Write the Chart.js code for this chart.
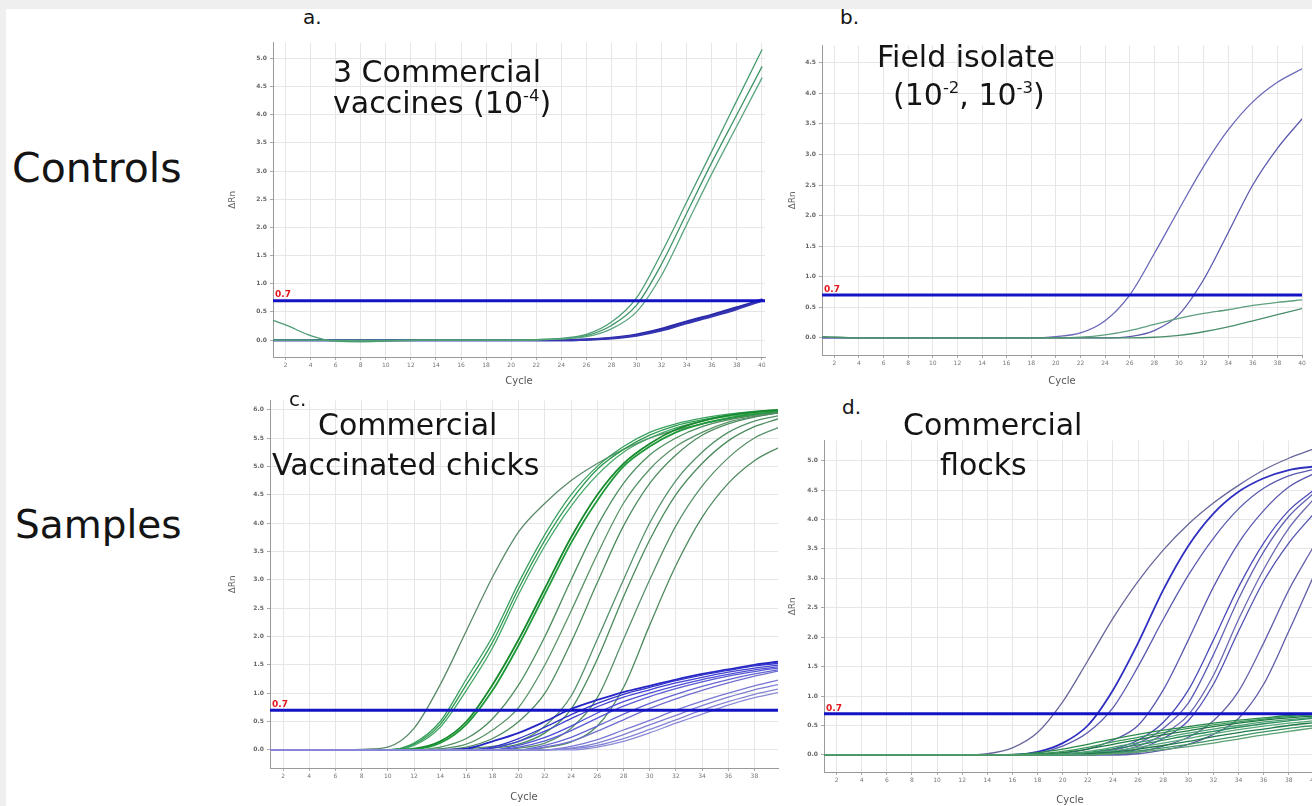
<!DOCTYPE html>
<html>
<head>
<meta charset="utf-8">
<script src="https://cdn.jsdelivr.net/npm/chart.js@4.4.1/dist/chart.umd.min.js"></script>
<style>
  html, body { margin: 0; padding: 0; }
  body {
    width: 1312px; height: 806px; overflow: hidden; position: relative;
    background: #efefef;
    font-family: "Comic Sans MS", "DejaVu Sans", sans-serif;
  }
  #sheet { position: absolute; left: 6px; top: 9px; right: 0; bottom: 0; background: #fff; }
  canvas { position: absolute; }
  .t { position: absolute; color: #141414; line-height: 1; white-space: nowrap; }
  .big { font-size: 39px; }
  .head { font-size: 30px; }
  .tag { font-size: 20px; }
  sup { font-size: 0.55em; vertical-align: 0.75em; }
</style>
</head>
<body>
<div id="sheet"></div>
<canvas id="pa"></canvas>
<canvas id="pb"></canvas>
<canvas id="pc"></canvas>
<canvas id="pd"></canvas>

<div class="t big" style="left:12px;top:148px;font-size:41px">Controls</div>
<div class="t big" style="left:15px;top:505px">Samples</div>

<div class="t tag" style="left:303px;top:7px">a.</div>
<div class="t tag" style="left:840px;top:7px">b.</div>
<div class="t tag" style="left:289px;top:389px">c.</div>
<div class="t tag" style="left:842px;top:397px">d.</div>

<div class="t head" style="left:333px;top:57px">3 Commercial</div>
<div class="t head" style="left:333px;top:88px">vaccines (10<sup>-4</sup>)</div>
<div class="t head" style="left:877px;top:42px">Field isolate</div>
<div class="t head" style="left:893px;top:80px">(10<sup>-2</sup>, 10<sup>-3</sup>)</div>
<div class="t head" style="left:318px;top:410px">Commercial</div>
<div class="t head" style="left:272px;top:450px">Vaccinated chicks</div>
<div class="t head" style="left:903px;top:410px">Commercial</div>
<div class="t head" style="left:940px;top:450px">flocks</div>

<script>
// sampled cycles shared by every amplification curve
const cycles = [1, 2, 4, 6, 8, 10, 12, 14, 16, 18, 20, 22, 24, 26, 28, 30, 32, 34, 36, 38, 40];
const cycleTicks = [2, 4, 6, 8, 10, 12, 14, 16, 18, 20, 22, 24, 26, 28, 30, 32, 34, 36, 38, 40];
const threshold = 0.7;

const aDeltaTicks = [0, 0.5, 1, 1.5, 2, 2.5, 3, 3.5, 4, 4.5, 5];
const bDeltaTicks = [0, 0.5, 1, 1.5, 2, 2.5, 3, 3.5, 4, 4.5];
const cDeltaTicks = [0, 0.5, 1, 1.5, 2, 2.5, 3, 3.5, 4, 4.5, 5, 5.5, 6];
const dDeltaTicks = [0, 0.5, 1, 1.5, 2, 2.5, 3, 3.5, 4, 4.5, 5];

// a. 3 commercial vaccines
const aGreen1 = [0.35, 0.27, 0.08, -0.02, -0.03, -0.02, -0.01, 0, 0, 0, 0, 0.01, 0.03, 0.1, 0.32, 0.75, 1.55, 2.45, 3.35, 4.25, 5.15];
const aGreen2 = [0, 0, 0, -0.01, -0.01, -0.01, 0, 0, 0, 0, 0, 0.01, 0.02, 0.08, 0.26, 0.62, 1.35, 2.25, 3.15, 4.0, 4.85];
const aGreen3 = [0, 0, 0, 0, 0, 0, 0, 0, 0, 0, 0, 0, 0.02, 0.06, 0.2, 0.5, 1.15, 2.05, 2.95, 3.8, 4.65];
const aBlue1 = [0, 0, 0, 0, 0, 0, 0, 0, 0, 0, 0, 0, 0, 0.01, 0.04, 0.1, 0.2, 0.33, 0.45, 0.58, 0.72];
const aBlue2 = [0, 0, 0, 0, 0, 0, 0, 0, 0, 0, 0, 0, 0, 0.01, 0.03, 0.08, 0.17, 0.3, 0.42, 0.55, 0.7];

// b. field isolate
const bBlue1 = [0, 0, 0, 0, 0, 0, 0, 0, 0, 0, 0.02, 0.08, 0.28, 0.7, 1.38, 2.1, 2.8, 3.4, 3.86, 4.18, 4.4];
const bBlue2 = [0, 0, 0, 0, 0, 0, 0, 0, 0, 0, 0, 0, 0, 0.02, 0.12, 0.38, 0.95, 1.72, 2.5, 3.1, 3.58];
const bGreen1 = [0.02, 0.01, 0, 0, 0, 0, 0, 0, 0, 0, 0, 0.01, 0.05, 0.12, 0.22, 0.32, 0.4, 0.46, 0.53, 0.58, 0.62];
const bGreen2 = [0.02, 0.01, 0, 0, 0, 0, 0, 0, 0, 0, 0, 0, 0, 0, 0.01, 0.04, 0.1, 0.18, 0.28, 0.38, 0.48];

// c. commercial vaccinated chicks
const cG1 = [0, 0, 0, 0, 0.01, 0.05, 0.38, 1.15, 2.1, 3.05, 3.85, 4.35, 4.75, 5.05, 5.3, 5.5, 5.64, 5.75, 5.84, 5.9, 5.95];
const cG2 = [0, 0, 0, 0, 0, 0, 0.12, 0.5, 1.25, 2.0, 2.95, 3.8, 4.5, 5.0, 5.35, 5.6, 5.75, 5.85, 5.92, 5.97, 6.0];
const cG3 = [0, 0, 0, 0, 0, 0, 0.1, 0.45, 1.15, 1.9, 2.85, 3.7, 4.4, 4.95, 5.3, 5.55, 5.72, 5.82, 5.9, 5.95, 5.98];
const cG4 = [0, 0, 0, 0, 0, 0, 0.08, 0.4, 1.05, 1.8, 2.75, 3.6, 4.3, 4.85, 5.25, 5.5, 5.68, 5.8, 5.88, 5.93, 5.96];
const cG5 = [0, 0, 0, 0, 0, 0, 0.02, 0.15, 0.5, 1.15, 1.95, 2.85, 3.75, 4.5, 5.05, 5.4, 5.65, 5.8, 5.9, 5.96, 6.0];
const cG6 = [0, 0, 0, 0, 0, 0, 0.01, 0.12, 0.45, 1.05, 1.85, 2.75, 3.65, 4.4, 5.0, 5.35, 5.6, 5.75, 5.85, 5.92, 5.97];
const cG7 = [0, 0, 0, 0, 0, 0, 0, 0.05, 0.2, 0.55, 1.15, 2.0, 3.0, 3.95, 4.7, 5.2, 5.5, 5.7, 5.82, 5.9, 5.96];
const cG8 = [0, 0, 0, 0, 0, 0, 0, 0.02, 0.1, 0.35, 0.75, 1.5, 2.45, 3.45, 4.35, 4.95, 5.35, 5.6, 5.78, 5.88, 5.95];
const cG9 = [0, 0, 0, 0, 0, 0, 0, 0, 0.05, 0.2, 0.5, 1.0, 1.9, 2.95, 3.95, 4.7, 5.2, 5.55, 5.75, 5.87, 5.95];
const cG10 = [0, 0, 0, 0, 0, 0, 0, 0, 0.02, 0.06, 0.15, 0.42, 0.95, 1.95, 3.0, 4.0, 4.75, 5.25, 5.6, 5.8, 5.9];
const cG11 = [0, 0, 0, 0, 0, 0, 0, 0, 0, 0.03, 0.1, 0.3, 0.72, 1.6, 2.7, 3.7, 4.5, 5.05, 5.45, 5.7, 5.85];
const cG12 = [0, 0, 0, 0, 0, 0, 0, 0, 0, 0, 0.03, 0.12, 0.38, 0.92, 1.95, 3.0, 3.95, 4.65, 5.15, 5.5, 5.7];
const cG13 = [0, 0, 0, 0, 0, 0, 0, 0, 0, 0, 0, 0.04, 0.14, 0.42, 1.1, 2.2, 3.25, 4.1, 4.7, 5.1, 5.35];
const cB1 = [0, 0, 0, 0, 0, 0, 0, 0, 0.02, 0.15, 0.3, 0.5, 0.72, 0.88, 1.02, 1.13, 1.24, 1.34, 1.42, 1.5, 1.56];
const cB2 = [0, 0, 0, 0, 0, 0, 0, 0, 0, 0.05, 0.2, 0.4, 0.62, 0.82, 0.98, 1.1, 1.22, 1.32, 1.4, 1.48, 1.53];
const cB3 = [0, 0, 0, 0, 0, 0, 0, 0, 0, 0.03, 0.15, 0.33, 0.55, 0.76, 0.93, 1.06, 1.18, 1.28, 1.37, 1.44, 1.5];
const cB4 = [0, 0, 0, 0, 0, 0, 0, 0, 0, 0, 0.08, 0.22, 0.42, 0.65, 0.85, 1.0, 1.13, 1.24, 1.33, 1.41, 1.47];
const cB5 = [0, 0, 0, 0, 0, 0, 0, 0, 0, 0, 0.05, 0.16, 0.34, 0.56, 0.77, 0.94, 1.08, 1.2, 1.3, 1.38, 1.45];
const cB6 = [0, 0, 0, 0, 0, 0, 0, 0, 0, 0, 0, 0.08, 0.22, 0.42, 0.63, 0.82, 0.98, 1.12, 1.24, 1.34, 1.42];
const cB7 = [0, 0, 0, 0, 0, 0, 0, 0, 0, 0, 0, 0.05, 0.15, 0.33, 0.53, 0.73, 0.9, 1.05, 1.18, 1.3, 1.4];
const cB8 = [0, 0, 0, 0, 0, 0, 0, 0, 0, 0, 0, 0, 0.06, 0.18, 0.35, 0.52, 0.7, 0.86, 1.0, 1.13, 1.24];
const cB9 = [0, 0, 0, 0, 0, 0, 0, 0, 0, 0, 0, 0, 0.03, 0.12, 0.27, 0.44, 0.61, 0.78, 0.93, 1.06, 1.16];
const cB10 = [0, 0, 0, 0, 0, 0, 0, 0, 0, 0, 0, 0, 0.02, 0.08, 0.2, 0.36, 0.53, 0.7, 0.85, 0.98, 1.08];
const cB11 = [0, 0, 0, 0, 0, 0, 0, 0, 0, 0, 0, 0, 0, 0.05, 0.15, 0.3, 0.47, 0.63, 0.79, 0.92, 1.02];

// d. commercial flocks
const dB1 = [0, 0, 0, 0, 0, 0, 0, 0.02, 0.12, 0.38, 0.9, 1.6, 2.32, 2.95, 3.48, 3.92, 4.28, 4.58, 4.84, 5.04, 5.2];
const dB2 = [0, 0, 0, 0, 0, 0, 0, 0, 0, 0.05, 0.2, 0.5, 1.1, 1.9, 2.8, 3.55, 4.1, 4.47, 4.7, 4.84, 4.9];
const dB3 = [0, 0, 0, 0, 0, 0, 0, 0, 0, 0.03, 0.15, 0.38, 0.8, 1.5, 2.3, 3.05, 3.68, 4.18, 4.53, 4.74, 4.85];
const dB4 = [0, 0, 0, 0, 0, 0, 0, 0, 0, 0, 0.03, 0.1, 0.25, 0.5, 1.1, 1.95, 2.85, 3.6, 4.15, 4.55, 4.78];
const dB5 = [0, 0, 0, 0, 0, 0, 0, 0, 0, 0, 0, 0.03, 0.1, 0.25, 0.55, 1.1, 1.95, 2.85, 3.6, 4.15, 4.5];
const dB6 = [0, 0, 0, 0, 0, 0, 0, 0, 0, 0, 0, 0, 0.05, 0.15, 0.35, 0.68, 1.35, 2.3, 3.15, 3.85, 4.35];
const dB7 = [0, 0, 0, 0, 0, 0, 0, 0, 0, 0, 0, 0, 0.03, 0.1, 0.28, 0.58, 1.2, 2.1, 2.95, 3.6, 4.1];
const dB8 = [0, 0, 0, 0, 0, 0, 0, 0, 0, 0, 0, 0, 0, 0.05, 0.15, 0.3, 0.58, 1.08, 1.9, 2.8, 3.55];
const dB9 = [0, 0, 0, 0, 0, 0, 0, 0, 0, 0, 0, 0, 0, 0.02, 0.08, 0.18, 0.35, 0.62, 1.2, 2.1, 3.05];
const dB10 = [0, 0, 0, 0, 0, 0, 0, 0, 0, 0, 0, 0.02, 0.08, 0.2, 0.45, 0.88, 1.7, 2.65, 3.45, 4.05, 4.45];
const dG1 = [0, 0, 0, 0, 0, 0, 0, 0, 0.01, 0.04, 0.1, 0.18, 0.27, 0.35, 0.42, 0.48, 0.54, 0.59, 0.63, 0.67, 0.7];
const dG2 = [0, 0, 0, 0, 0, 0, 0, 0, 0, 0.02, 0.06, 0.13, 0.22, 0.3, 0.38, 0.45, 0.51, 0.56, 0.61, 0.65, 0.68];
const dG3 = [0, 0, 0, 0, 0, 0, 0, 0, 0, 0.01, 0.04, 0.1, 0.18, 0.26, 0.34, 0.41, 0.48, 0.54, 0.59, 0.63, 0.66];
const dG4 = [0, 0, 0, 0, 0, 0, 0, 0, 0, 0, 0.02, 0.06, 0.13, 0.21, 0.29, 0.37, 0.44, 0.5, 0.56, 0.6, 0.64];
const dG5 = [0, 0, 0, 0, 0, 0, 0, 0, 0, 0, 0.01, 0.04, 0.1, 0.17, 0.25, 0.33, 0.4, 0.47, 0.53, 0.58, 0.62];
const dG6 = [0, 0, 0, 0, 0, 0, 0, 0, 0, 0, 0, 0.03, 0.07, 0.13, 0.2, 0.28, 0.36, 0.43, 0.49, 0.54, 0.58];
const dG7 = [0, 0, 0, 0, 0, 0, 0, 0, 0, 0, 0, 0.02, 0.05, 0.1, 0.16, 0.23, 0.31, 0.38, 0.44, 0.5, 0.55];
const dG8 = [0, 0, 0, 0, 0, 0, 0, 0, 0, 0, 0, 0, 0.03, 0.07, 0.12, 0.18, 0.25, 0.32, 0.39, 0.45, 0.5];
const dG9 = [0, 0, 0, 0, 0, 0, 0, 0, 0, 0, 0, 0, 0.02, 0.05, 0.09, 0.14, 0.2, 0.27, 0.34, 0.4, 0.46];

const curve = (values, color, width) => ({
  data: values.map((v, i) => ({ x: cycles[i], y: v })),
  borderColor: color,
  borderWidth: width || 1.3,
  order: 1,
});

const thresholdLabel = {
  id: "thresholdLabel",
  afterDatasetsDraw(chart) {
    const { ctx, chartArea, scales } = chart;
    const y = scales.y.getPixelForValue(threshold);
    ctx.save();
    ctx.fillStyle = "#e4161e";
    ctx.font = "bold 9px 'DejaVu Sans', sans-serif";
    ctx.textBaseline = "bottom";
    ctx.fillText("0.7", chartArea.left + 2, y - 1);
    ctx.restore();
  },
};

const panels = [
  {
    id: "pa", box: { l: 273, t: 42, r: 765, b: 357, yw: 50, xh: 34 },
    x: [1, 40.25], y: [-0.3, 5.28], yTicks: aDeltaTicks,
    series: [
      curve(aGreen3, "#5aa57e"), curve(aGreen2, "#3f9466"), curve(aGreen1, "#4c9c72"),
      curve(aBlue2, "#3434b4", 2.2), curve(aBlue1, "#2a2aa8", 2.2),
    ],
  },
  {
    id: "pb", box: { l: 822, t: 45, r: 1302, b: 355, yw: 39, xh: 36 },
    x: [1, 40], y: [-0.28, 4.78], yTicks: bDeltaTicks,
    series: [
      curve(bGreen2, "#4b8f6c"), curve(bGreen1, "#5f9f7f"),
      curve(bBlue2, "#5c5aae"), curve(bBlue1, "#6a68b8"),
    ],
  },
  {
    id: "pc", box: { l: 270, t: 400, r: 778, b: 768, yw: 47, xh: 39 },
    x: [1, 39.8], y: [-0.32, 6.16], yTicks: cDeltaTicks,
    series: [
      curve(cB11, "#8a8ad8"), curve(cB10, "#8585d5"), curve(cB9, "#7f7fd2"), curve(cB8, "#7878d4"),
      curve(cB7, "#6f6fd0"), curve(cB6, "#6565d2"), curve(cB5, "#5a5ad4"), curve(cB4, "#4e4ed6"),
      curve(cB3, "#4242d2"), curve(cB2, "#3434cc"), curve(cB1, "#2626c4", 1.8),
      curve(cG13, "#4e8a5f"), curve(cG12, "#58906a"), curve(cG11, "#4a8a5c"), curve(cG10, "#54916a"),
      curve(cG9, "#4f8c60"), curve(cG8, "#5a9468"), curve(cG7, "#4c8e5e"),
      curve(cG6, "#1f9a3a", 1.8), curve(cG5, "#178a2e", 1.8),
      curve(cG4, "#45a868"), curve(cG3, "#2e9a50"), curve(cG2, "#3aa060"),
      curve(cG1, "#5a8a6a"),
    ],
  },
  {
    id: "pd", box: { l: 824, t: 440, r: 1316, b: 772, yw: 41, xh: 38 },
    x: [1, 40.17], y: [-0.29, 5.34], yTicks: dDeltaTicks,
    series: [
      curve(dG9, "#5aa070"), curve(dG8, "#3d9463"), curve(dG7, "#207a48"), curve(dG6, "#58a878"),
      curve(dG5, "#2c8c5c"), curve(dG4, "#4aa070"), curve(dG3, "#1e7a40"), curve(dG2, "#3a9a5a"),
      curve(dG1, "#2a8a4a"),
      curve(dB9, "#5e5ca8"), curve(dB8, "#6462ac"), curve(dB7, "#5252b4"), curve(dB6, "#6a68b0"),
      curve(dB5, "#4c4cb8"), curve(dB10, "#6060b4"), curve(dB4, "#5a58b0"), curve(dB3, "#5a5ab0"),
      curve(dB2, "#3030c0", 1.8), curve(dB1, "#66669a"),
    ],
  },
];

const fontFamily = "'DejaVu Sans', sans-serif";

panels.forEach((p) => {
  const canvas = document.getElementById(p.id);
  const padTop = 6, padRight = 8;
  const left = p.box.l - p.box.yw;
  const top = p.box.t - padTop;
  canvas.width = p.box.r - p.box.l + p.box.yw + padRight;
  canvas.height = p.box.b - p.box.t + padTop + p.box.xh;
  canvas.style.left = left + "px";
  canvas.style.top = top + "px";

  const thresholdLine = {
    data: [{ x: p.x[0], y: threshold }, { x: p.x[1], y: threshold }],
    borderColor: "#1414c4",
    borderWidth: 3,
    order: 0,
  };

  new Chart(canvas.getContext("2d"), {
    type: "line",
    data: { datasets: [thresholdLine, ...p.series] },
    plugins: [thresholdLabel],
    options: {
      responsive: false,
      animation: false,
      events: [],
      layout: { padding: { top: padTop, right: padRight, left: 0, bottom: 0 } },
      plugins: { legend: { display: false }, tooltip: { enabled: false } },
      elements: {
        point: { radius: 0 },
        line: { cubicInterpolationMode: "monotone", fill: false, borderCapStyle: "round" },
      },
      scales: {
        x: {
          type: "linear",
          min: p.x[0],
          max: p.x[1],
          afterFit: (s) => { s.height = p.box.xh; },
          afterBuildTicks: (s) => {
            s.ticks = cycleTicks.filter((v) => v >= s.min && v <= s.max).map((v) => ({ value: v }));
          },
          grid: { color: "#e6e6e6", tickLength: 3, tickColor: "#aaa" },
          border: { color: "#9a9a9a" },
          ticks: { color: "#777", font: { size: 6, family: fontFamily }, padding: 2, maxRotation: 0, autoSkip: false },
          title: { display: true, text: "Cycle", color: "#555", font: { size: 10, family: fontFamily }, padding: { top: 2, bottom: 4 } },
        },
        y: {
          type: "linear",
          min: p.y[0],
          max: p.y[1],
          afterFit: (s) => { s.width = p.box.yw; },
          afterBuildTicks: (s) => {
            s.ticks = p.yTicks.map((v) => ({ value: v }));
          },
          grid: { color: "#e6e6e6", tickLength: 3, tickColor: "#aaa" },
          border: { color: "#9a9a9a" },
          ticks: { color: "#666", font: { size: 6, family: fontFamily, weight: "bold" }, padding: 3, callback: (v) => v.toFixed(1) },
          title: { display: true, text: "ΔRn", color: "#666", font: { size: 9, family: fontFamily } },
        },
      },
    },
  });
});
</script>
</body>
</html>
